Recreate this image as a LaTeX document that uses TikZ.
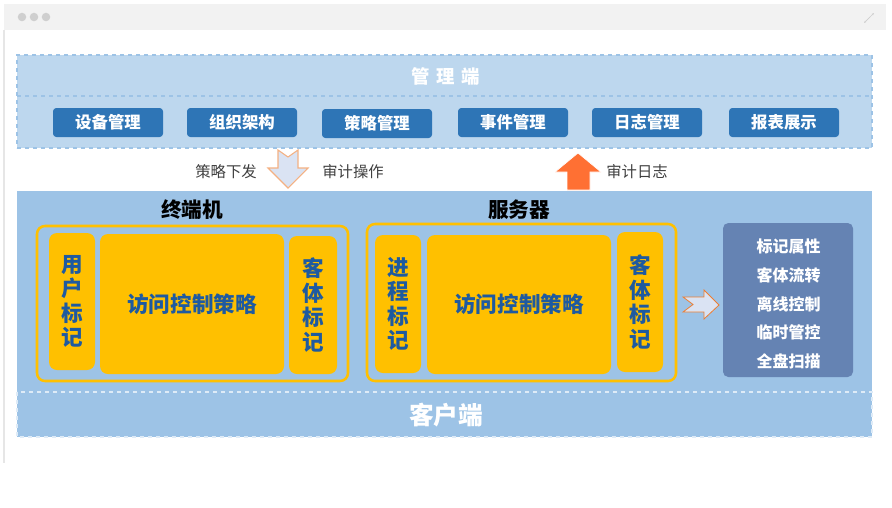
\documentclass[tikz,border=0pt]{standalone}
\usepackage{fontspec}
\usetikzlibrary{arrows.meta}
\newfontfamily\cjk{Noto Sans CJK SC}
\definecolor{barbg}{HTML}{F2F2F2}
\definecolor{dotc}{HTML}{CFCFCF}
\definecolor{mgmtfill}{HTML}{BDD7EE}
\definecolor{mgmtdash}{HTML}{9DC3E6}
\definecolor{btnc}{HTML}{2E75B6}
\definecolor{clientfill}{HTML}{9DC3E6}
\definecolor{clientdash}{HTML}{DEEBF7}
\definecolor{yel}{HTML}{FFC000}
\definecolor{tblue}{HTML}{1E5AA0}
\definecolor{panelc}{HTML}{6583B3}
\definecolor{arrlight}{HTML}{DAE3F3}
\definecolor{arredge}{HTML}{F4B183}
\definecolor{arredge2}{HTML}{ED7D31}
\definecolor{uparr}{HTML}{FF7033}
\definecolor{lbl}{HTML}{3F3F3F}
\definecolor{shadowc}{HTML}{E6E6E6}
\begin{document}
\begin{tikzpicture}[x=0.75pt,y=-0.75pt,
  btnbox/.style={fill=btnc, rounded corners=2.5pt, minimum width=82.5pt, minimum height=21.75pt, inner sep=0pt, text=white, font=\cjk\bfseries\fontsize{12.3}{14}\selectfont},
  groupbox/.style={draw=yel, line width=1.9pt, rounded corners=6pt, inner sep=0pt},
  ybox/.style={fill=yel, rounded corners=6pt, inner sep=0pt, text=tblue, align=center, font=\cjk\bfseries\fontsize{16.2}{18.3}\selectfont},
  lbltext/.style={text=lbl, font=\cjk\fontsize{11.5}{13}\selectfont, inner sep=0pt},
  headtext/.style={text=black, font=\cjk\bfseries\fontsize{15.5}{17}\selectfont, inner sep=0pt},
]
\useasboundingbox (0,0) rectangle (892,507);
% window chrome
\fill[barbg] (4,4) rectangle (886,30);
\draw[shadowc, line width=0.8pt] (4,30) -- (4,463);
\foreach \cx in {22,34,46} \fill[dotc] (\cx,17) circle[radius=3.2pt];
\draw[dotc, line width=0.5pt, -{Stealth[length=2pt]}] (866,21) -- (874,13);
\draw[dotc, line width=0.5pt, -{Stealth[length=2pt]}] (870,17) -- (864,23);

% management area
\node[fill=mgmtfill, draw=mgmtdash, dashed, line width=0.9pt, minimum width=641.25pt, minimum height=69.75pt, inner sep=0pt] (mgmt) at (444.5,101.5) {};
\draw[mgmtdash, dashed, line width=0.9pt] (17,96) -- (872,96);
\node[text=white, font=\cjk\bfseries\fontsize{13.8}{15}\selectfont, inner sep=0pt] (mgmttitle) at (446,76) {管\hspace{5pt}理\hspace{5pt}端};
\node[btnbox] (b1) at (108,122.5) {设备管理};
\node[btnbox] (b2) at (242,122.5) {组织架构};
\node[btnbox] (b3) at (377,123.5) {策略管理};
\node[btnbox] (b4) at (513,122.5) {事件管理};
\node[btnbox] (b5) at (647,122.5) {日志管理};
\node[btnbox] (b6) at (784,122.5) {报表展示};

% arrows between layers
\draw[fill=arrlight, draw=arredge, line width=0.8pt, line join=miter]
  (278,150) -- (288,157) -- (298,150) -- (298,168) -- (308,168) -- (288,188) -- (268,168) -- (278,168) -- cycle;
\node[lbltext] (l1) at (226,172) {策略下发};
\node[lbltext] (l2) at (353,172) {审计操作};
\draw[fill=uparr, draw=white, line width=0.5pt]
  (578,153) -- (601,172) -- (590,172) -- (590,190) -- (567,190) -- (567,172) -- (555,172) -- cycle;
\node[lbltext] (l3) at (637,172) {审计日志};

% client area
\node[fill=clientfill, minimum width=641.25pt, minimum height=184.5pt, inner sep=0pt] (client) at (444.5,314) {};
\draw[clientdash, dashed, line width=0.9pt] (17,392) rectangle (872,437);
\node[text=white, font=\cjk\bfseries\fontsize{18.5}{20}\selectfont, inner sep=0pt] (clienttitle) at (446,415) {客户端};

\node[headtext] (h1) at (192,210) {终端机};
\node[headtext] (h2) at (519,210) {服务器};

% terminal group
\node[groupbox, minimum width=233.25pt, minimum height=116.25pt] (tg) at (192.5,303.5) {};
\node[ybox, minimum width=34.5pt, minimum height=102.75pt] (ut) at (72,301.5) {用\\户\\标\\记};
\node[ybox, minimum width=138pt, minimum height=105pt] (acp1) at (192,304) {访问控制策略};
\node[ybox, minimum width=36pt, minimum height=103.5pt] (ob1) at (313,305) {客\\体\\标\\记};

% server group
\node[groupbox, minimum width=231.75pt, minimum height=117.75pt] (sg) at (521.5,302.5) {};
\node[ybox, minimum width=34.5pt, minimum height=103.5pt] (pt) at (398,304) {进\\程\\标\\记};
\node[ybox, minimum width=138pt, minimum height=104.25pt] (acp2) at (519,304.5) {访问控制策略};
\node[ybox, minimum width=34.5pt, minimum height=105pt] (ob2) at (640,302) {客\\体\\标\\记};

% right arrow
\draw[fill=arrlight, draw=arredge2, line width=0.6pt, line join=miter]
  (683,297) -- (704,297) -- (704,290) -- (719,305) -- (704,319) -- (704,312) -- (683,312) -- (693,304.5) -- cycle;

% feature panel
\node[fill=panelc, rounded corners=4pt, minimum width=97.5pt, minimum height=115.5pt, inner sep=0pt] (panel) at (788,300) {};
\node[text=white, align=center, inner sep=0pt, font=\cjk\bfseries\fontsize{12}{21.5}\selectfont] (paneltext) at (788.5,304)
  {标记属性\\客体流转\\离线控制\\临时管控\\全盘扫描};
\end{tikzpicture}
\end{document}
